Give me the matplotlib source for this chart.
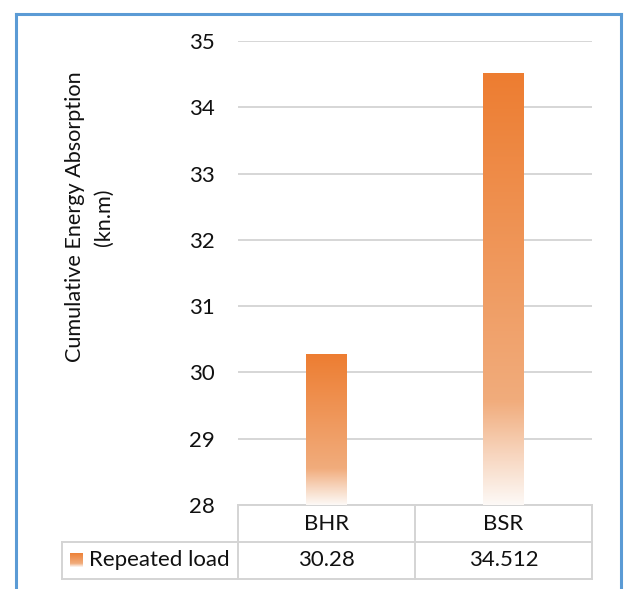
import matplotlib
matplotlib.use("Agg")
import matplotlib.pyplot as plt
import numpy as np
from matplotlib.colors import LinearSegmentedColormap
from matplotlib.lines import Line2D
from matplotlib.transforms import blended_transform_factory

plt.rcParams['font.family'] = ['Lato', 'DejaVu Sans']

categories = ["BHR", "BSR"]
values = [30.28, 34.512]
series_name = "Repeated load"
value_labels = ["30.28", "34.512"]
y_ticks = [28, 29, 30, 31, 32, 33, 34, 35]
y_label = "Cumulative Energy Absorption\n(kn.m)"

W, H = 624, 589
fig = plt.figure(figsize=(W / 100, H / 100), dpi=100)
fig.patch.set_facecolor("white")

def fx(px):
    return px / W

def fy(py):
    return 1 - py / H

left, right, top, bottom = 238, 592, 41, 505
ax = fig.add_axes([fx(left), fy(bottom), fx(right - left), fy(top) - fy(bottom)])

# orange fade: pale at the base, full colour at the top
cmap = LinearSegmentedColormap.from_list(
    "orange_fade",
    [(0.0, (253/255, 249/255, 246/255)),
     (0.12, (247/255, 212/255, 188/255)),
     (0.24, (241/255, 172/255, 124/255)),
     (1.0, (237/255, 125/255, 49/255))])

txt = "#111111"
fs = 16

ymin, ymax = y_ticks[0], y_ticks[-1]
x = np.arange(len(categories))
bw = 0.226
bars = ax.bar(x, np.array(values) - ymin, bottom=ymin, width=bw,
              color="none", edgecolor="none", zorder=3)
grad = np.linspace(0, 1, 256).reshape(-1, 1)
for b, v in zip(bars, values):
    x0 = b.get_x()
    im = ax.imshow(grad, cmap=cmap, origin="lower", aspect="auto",
                   extent=[x0, x0 + b.get_width(), ymin, v], zorder=3,
                   interpolation="bilinear")
    im.set_clip_path(b)

ax.set_xlim(-0.5, len(categories) - 0.5)
ax.set_ylim(ymin, ymax)
ax.set_yticks(y_ticks)
ax.set_yticklabels([str(t) for t in y_ticks], fontsize=fs, color=txt)
ax.tick_params(axis="y", length=0, pad=16.5)
ax.set_xticks([])
ax.grid(axis="y", color="#d6d6d6", linewidth=1.4, zorder=0)
ax.set_axisbelow(True)
for s in ax.spines.values():
    s.set_visible(False)

# data table under the plot
tr = blended_transform_factory(ax.transAxes, ax.transAxes)
ah = bottom - top
aw = right - left
r0, r1, r2 = 0.0, -(542 - bottom) / ah, -(579 - bottom) / ah
lx = (62 - left) / aw
cols = [0.0, 0.5, 1.0]
lc = "#d4d4d4"
lw = 1.4
def hline(y, x0, x1):
    ax.add_line(Line2D([x0, x1], [y, y], transform=tr, color=lc, lw=lw, clip_on=False))
def vline(xx, y0, y1):
    ax.add_line(Line2D([xx, xx], [y0, y1], transform=tr, color=lc, lw=lw, clip_on=False))
hline(r0, 0, 1)
hline(r1, lx, 1)
hline(r2, lx, 1)
vline(lx, r1, r2)
for c in cols:
    vline(c, r0, r2)

for i, (cat, lab) in enumerate(zip(categories, value_labels)):
    cx = (cols[i] + cols[i + 1]) / 2
    ax.text(cx, (r0 + r1) / 2, cat, transform=tr, ha="center", va="center",
            fontsize=fs, color=txt, clip_on=False)
    ax.text(cx, (r1 + r2) / 2, lab, transform=tr, ha="center", va="center",
            fontsize=fs, color=txt, clip_on=False)

# legend key inside the table
kax = fig.add_axes([fx(70), fy(567), fx(13), fy(553) - fy(567)])
kax.imshow(grad, cmap=cmap, origin="lower", aspect="auto", extent=[0, 1, 0, 1])
kax.axis("off")
ax.text((89 - left) / aw, (r1 + r2) / 2, series_name, transform=tr,
        ha="left", va="center", fontsize=fs, color=txt, clip_on=False)

fig.text(fx(89.5), fy(217), y_label, rotation=90, ha="center", va="center",
         multialignment="center", fontsize=15.6, color=txt, linespacing=1.5)

# blue frame around the chart area
bc = "#5b9bd5"
for xs, ys in [([16, 16], [14, H]), ([621, 621], [14, H]), ([16, 621], [14, 14])]:
    fig.add_artist(Line2D([fx(v) for v in xs], [fy(v) for v in ys], color=bc,
                          lw=2.2, transform=fig.transFigure))

fig.savefig("out.png", dpi=100)
